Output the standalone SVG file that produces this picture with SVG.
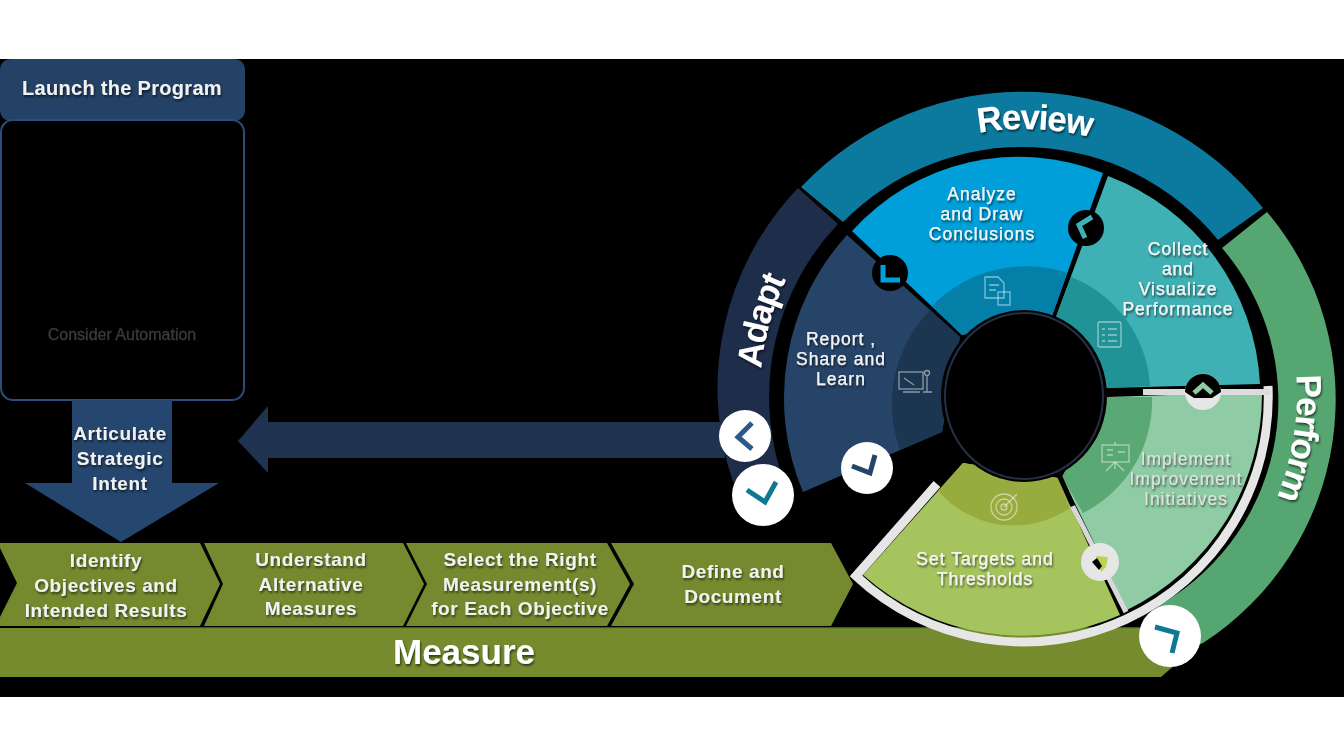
<svg xmlns="http://www.w3.org/2000/svg" width="1344" height="756" viewBox="0 0 1344 756">
<defs>
<filter id="soft" x="-10%" y="-20%" width="120%" height="140%"><feGaussianBlur in="SourceAlpha" stdDeviation="1"/><feOffset dx="1" dy="1.5"/><feComponentTransfer><feFuncA type="linear" slope="0.6"/></feComponentTransfer><feMerge><feMergeNode/><feMergeNode in="SourceGraphic"/></feMerge></filter>
<path id="arcReview" d="M861.8,185.2 A265 265 0 0 1 1202.3,197.1"/>
<path id="arcPerform" d="M1258.1,253.9 A272 272 0 0 1 1203.4,599.4"/>
<path id="arcAdapt" d="M781.1,497.5 A265 265 0 0 1 880.7,171.7"/>
</defs>
<style>
text{font-family:"Liberation Sans",Arial,sans-serif;text-anchor:middle;fill:#f2f2f2;filter:url(#soft)}
.b{font-weight:700;font-size:19px;letter-spacing:.6px}
.w{font-size:17.5px;letter-spacing:1px;stroke:#fff;stroke-width:.25px}
.r{font-weight:700;font-size:35px;letter-spacing:-1.5px;fill:#fff}
.ic{fill:none;stroke:#fff;stroke-opacity:.5;stroke-width:1.3}
.g{fill:none;stroke-width:5;stroke-linejoin:miter}
.bd{fill:#fff}
</style>
<rect width="1344" height="756" fill="#fff"/>
<rect y="59" width="1344" height="638" fill="#000"/>

<g id="launch">
<path d="M12,59 H233 Q245,59 245,71 V109 Q245,121 233,121 H12 Q0,121 0,109 V71 Q0,59 12,59 Z" fill="#234266"/>
<text x="122" y="95" style="font-weight:700;font-size:20px;letter-spacing:.3px">Launch the Program</text>
</g>
<g id="automation">
<rect x="1" y="120" width="243" height="280" rx="12" fill="#000" stroke="#2b4d78" stroke-width="2"/>
<text x="122" y="340" style="font-size:16px;fill:#3a3a3a;stroke:#3a3a3a;stroke-width:.3px">Consider Automation</text>
</g>
<g id="articulate">
<path d="M72,400 H172 V483 H219 L121,542 L25,483 H72 Z" fill="#25466e"/>
<text class="b" x="120" y="440">Articulate</text>
<text class="b" x="120" y="465">Strategic</text>
<text class="b" x="120" y="490">Intent</text>
</g>

<g id="connectors">
<path d="M725,422 H268 V406 L238,441 L268,473 V458 H725 Z" fill="#1f3350"/>
</g>

<g id="measure">
<path d="M0,628 H1145 L1192,650 L1161,677 H0 Z" fill="#758b2d"/>
<rect x="80" y="627" width="1060" height="1.2" fill="#0b7a14"/>
<text x="464" y="664" style="font-weight:700;font-size:35px;fill:#fff">Measure</text>
</g>
<g id="identify">
<path d="M0,543 H200 L220,584 L200,626 H0 V617 L17,583 L0,548 Z" fill="#758a2e"/>
<text class="b" x="106" y="567">Identify</text>
<text class="b" x="106" y="592">Objectives and</text>
<text class="b" x="106" y="617">Intended Results</text>
</g>
<g id="understand">
<path d="M204,543 H403 L424,584 L403,626 H204 L223,584 Z" fill="#758a2e"/>
<text class="b" x="311" y="566">Understand</text>
<text class="b" x="311" y="591">Alternative</text>
<text class="b" x="311" y="615">Measures</text>
</g>
<g id="select">
<path d="M406,543 H607 L630,584 L607,626 H406 L427,584 Z" fill="#758a2e"/>
<text class="b" x="520" y="566">Select the Right</text>
<text class="b" x="520" y="591">Measurement(s)</text>
<text class="b" x="520" y="615">for Each Objective</text>
</g>
<g id="define">
<path d="M611,543 H831 L853,584 L831,626 H611 L634,584 Z" fill="#758a2e"/>
<text class="b" x="733" y="578">Define and</text>
<text class="b" x="733" y="603">Document</text>
</g>

<g id="review">
<path d="M801,187 A306 306 0 0 1 1263,208 L1218,240 A252 252 0 0 0 843,222 Z" fill="#0c7a9e"/>
<text class="r"><textPath href="#arcReview" startOffset="50%">Review</textPath></text>
</g>
<g id="perform">
<path d="M1267,212 A290 290 0 0 1 1203,643 L1175,655 L1145,618 L1163,603 A235 235 0 0 0 1222,248 Z" fill="#56a671"/>
<text class="r"><textPath href="#arcPerform" startOffset="50%">Perform</textPath></text>
</g>
<g id="adapt">
<path d="M798,188 A290 290 0 0 0 733,482 L785,490 L780,470 A251 251 0 0 1 838,224 Z" fill="#1d2d4a"/>
<text class="r"><textPath href="#arcAdapt" startOffset="48%">Adapt</textPath></text>
</g>

<g id="report">
<path d="M847,235 L960,337 L942,432 L803,492 A242 242 0 0 1 847,235 Z" fill="#264468"/>
<path d="M930,310 L960,337 L942,432 L900,450 A135 135 0 0 1 930,310 Z" fill="#1c3550"/>
<text class="w" x="841" y="345">Report ,</text>
<text class="w" x="841" y="365">Share and</text>
<text class="w" x="841" y="385">Learn</text>
<g class="ic"><rect x="899" y="372" width="24" height="17"/><path d="M904,378 L914,385 M903,392 L920,392 M927,376 L927,392 M923,392 L932,392"/><circle cx="927" cy="373" r="2.5"/></g>
</g>
<g id="analyze">
<path d="M852,231 A225 225 0 0 1 1103,173 L1052,316 L962,335 Z" fill="#009fd9"/>
<path d="M932,306 A130 130 0 0 1 1067,273 L1052,316 L962,335 Z" fill="#0480a8"/>
<text class="w" x="982" y="200">Analyze</text>
<text class="w" x="982" y="220">and Draw</text>
<text class="w" x="982" y="240">Conclusions</text>
<g class="ic"><path d="M985,277 H998 L1004,283 V298 H985 Z M989,285 H999 M989,290 H996"/><rect x="998" y="292" width="12" height="13"/></g>
</g>
<g id="collect">
<path d="M1108,176 A235 235 0 0 1 1260,384 L1105,388 L1056,317 Z" fill="#3fb1b5"/>
<path d="M1071,277 A125 125 0 0 1 1150,386 L1105,388 L1056,317 Z" fill="#1f9396"/>
<text class="w" x="1178" y="255">Collect</text>
<text class="w" x="1178" y="275">and</text>
<text class="w" x="1178" y="295">Visualize</text>
<text class="w" x="1178" y="315">Performance</text>
<g class="ic"><rect x="1098" y="322" width="23" height="25" rx="2"/><path d="M1102,329 H1105 M1108,329 H1117 M1102,335 H1105 M1108,335 H1117 M1102,341 H1105 M1108,341 H1117"/></g>
</g>
<g id="implement">
<path d="M1107,397 L1262,392 A240 240 0 0 1 1127,610 L1062,477 Z" fill="#8fcca5"/>
<path d="M1152,397 A125 125 0 0 1 1083,513 L1062,477 L1107,397 Z" fill="#5aa873"/>
<text class="w" x="1186" y="465" style="fill:#e2e2e2;stroke:none">Implement</text>
<text class="w" x="1186" y="485" style="fill:#e2e2e2;stroke:none">Improvement</text>
<text class="w" x="1186" y="505" style="fill:#e2e2e2;stroke:none">Initiatives</text>
<g class="ic"><rect x="1102" y="445" width="27" height="17"/><path d="M1115,442 V445 M1115,462 L1106,471 M1115,462 L1124,471 M1115,462 V469 M1107,450 H1113 M1107,455 H1113 M1118,452 H1125"/></g>
</g>
<g id="targets">
<path d="M963,463 L863,575 A240 240 0 0 0 1120,615 L1058,478 Z" fill="#a6c45e"/>
<path d="M938,491 A100 100 0 0 0 1070,508 L1058,478 L963,463 Z" fill="#98ab3e"/>
<text class="w" x="985" y="565">Set Targets and</text>
<text class="w" x="985" y="585">Thresholds</text>
<g class="ic"><circle cx="1004" cy="507" r="13"/><circle cx="1004" cy="507" r="8"/><circle cx="1004" cy="507" r="3"/><path d="M1004,507 L1017,494"/></g>
</g>

<g id="borders">
<path d="M937,484 L856,576 A245 245 0 0 0 1268,386" fill="none" stroke="#e6e6e6" stroke-width="9"/>
<path d="M1143,392 H1270" fill="none" stroke="#dcdcdc" stroke-width="6"/>
<path d="M1072,505 L1126,612" fill="none" stroke="#d8d8d8" stroke-width="5"/>
<path d="M1105,392 H1143 M1060,477 L1073,506" fill="none" stroke="#000" stroke-width="5"/>
</g>

<g id="hub">
<ellipse cx="1024" cy="396" rx="83" ry="86" fill="#000"/>
<ellipse cx="1024" cy="396" rx="79" ry="83" fill="#000" stroke="#262f47" stroke-width="2"/>
</g>

<g id="badges">
<circle cx="890" cy="273" r="18" fill="#000"/>
<path class="g" d="M883,265 V280 H900" stroke="#00a0dc"/>
<circle cx="1086" cy="228" r="18" fill="#000"/>
<path class="g" d="M1092,217 L1079,225 L1085,238" stroke="#3fb1b5"/>
<circle cx="1203" cy="392" r="18" fill="#e6e6e6"/>
<path d="M1185,392 A18 18 0 0 1 1221,392 L1212,398 H1194 Z" fill="#000"/>
<path class="g" d="M1194,393 L1203,385 L1212,393" stroke="#8fcca5"/>
<circle cx="1100" cy="562" r="19" fill="#e6e6e6"/>
<path d="M1096,556 L1108,557 L1106,567 L1101,572 L1098,562 Z" fill="#b9d44f"/>
<path d="M1092,562 L1097,558 L1102,566 L1099,570 Z" fill="#000"/>
<circle class="bd" cx="745" cy="436" r="26"/>
<path class="g" d="M752,423 L738,437 L752,449" stroke="#2a5a85"/>
<circle class="bd" cx="763" cy="495" r="31"/>
<path class="g" d="M747,490 L765,502 L776,482" stroke="#0d7a94"/>
<circle class="bd" cx="867" cy="468" r="26"/>
<path class="g" d="M852,466 L870,473 L875,455" stroke="#24446a"/>
<circle class="bd" cx="1170" cy="636" r="31"/>
<path class="g" d="M1155,627 L1177,633 L1172,653" stroke="#0d7a94"/>
</g>
</svg>
